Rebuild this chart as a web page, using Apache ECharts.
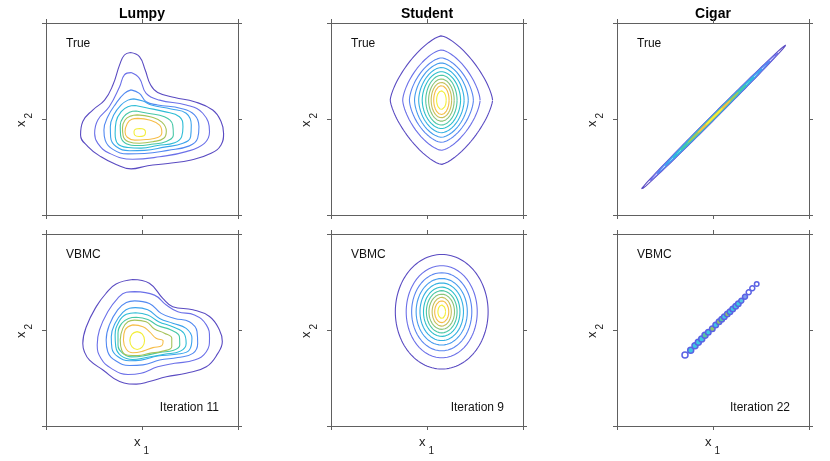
<!DOCTYPE html>
<html><head><meta charset="utf-8">
<script src="https://cdn.jsdelivr.net/npm/echarts@6/dist/echarts.min.js"></script>
<style>html,body{margin:0;padding:0;background:#fff}#c{width:830px;height:461px}</style>
</head><body><div id="c"></div><script>
// ---------- labels ----------
const panelTitles = ['Lumpy', 'Student', 'Cigar'];
const rowLabels = ['True', 'VBMC'];
const iterationLabels = ['Iteration 11', 'Iteration 9', 'Iteration 22'];
const axisMin = -3, axisMax = 3, axisInterval = 3;

// ---------- contour colours (outer -> inner) ----------
const colors9 = ['#5a4bc2', '#6b70e8', '#5289f1', '#3ca4ec', '#2dbcd6', '#46c7a6', '#a6c35a', '#f6bd48', '#f3ee3a'];
const colors11 = ['#5a4bc2', '#6b70e8', '#5a86f0', '#459cee', '#35b1e2', '#2dbfcc', '#4ec8a5', '#8bc47a', '#c7c05a', '#f6bd48', '#f3ee3a'];

// ---------- Lumpy, true density: contour outlines (x1, x2) ----------
const lumpyTrue = [
  [[-0.36,2.08],[-0.08,1.95],[0.10,1.53],[0.27,1.06],[0.49,0.83],[1.02,0.67],[1.64,0.54],[2.21,0.28],[2.47,-0.08],[2.55,-0.45],[2.47,-0.81],[2.16,-1.07],[1.54,-1.28],[0.81,-1.39],[0.18,-1.46],[-0.34,-1.56],[-0.81,-1.42],[-1.28,-1.18],[-1.69,-0.86],[-1.92,-0.50],[-1.85,-0.08],[-1.54,0.28],[-1.17,0.59],[-0.91,1.06],[-0.70,1.69],[-0.55,2.00]],
  [[-0.34,1.45],[-0.08,1.27],[0.13,0.80],[0.55,0.59],[1.38,0.44],[1.90,0.18],[2.11,-0.40],[1.95,-0.76],[1.38,-1.02],[0.55,-1.18],[-0.29,-1.26],[-1.02,-1.07],[-1.38,-0.76],[-1.48,-0.45],[-1.38,-0.03],[-1.02,0.39],[-0.70,1.01],[-0.55,1.38]],
  [[-0.34,0.91],[-0.08,0.80],[0.13,0.54],[0.49,0.44],[1.22,0.33],[1.64,0.13],[1.78,-0.24],[1.74,-0.60],[1.48,-0.84],[0.81,-0.98],[0.08,-1.08],[-0.44,-1.09],[-0.91,-0.95],[-1.15,-0.66],[-1.19,-0.34],[-1.07,0.07],[-0.81,0.49],[-0.55,0.80]],
  [[-0.26,0.63],[0.03,0.56],[0.29,0.44],[0.91,0.31],[1.38,0.18],[1.54,-0.19],[1.52,-0.55],[1.28,-0.76],[0.70,-0.88],[0.08,-0.98],[-0.39,-0.99],[-0.81,-0.86],[-0.98,-0.57],[-0.99,-0.24],[-0.88,0.13],[-0.65,0.44],[-0.44,0.59]],
  [[-0.21,0.42],[0.13,0.35],[0.70,0.23],[1.17,0.07],[1.28,-0.24],[1.24,-0.55],[1.02,-0.74],[0.49,-0.83],[-0.03,-0.91],[-0.44,-0.89],[-0.76,-0.77],[-0.84,-0.45],[-0.81,-0.08],[-0.65,0.23],[-0.44,0.38]],
  [[-0.18,0.25],[0.18,0.18],[0.70,0.07],[0.96,-0.19],[0.98,-0.50],[0.76,-0.70],[0.29,-0.79],[-0.13,-0.83],[-0.49,-0.77],[-0.67,-0.50],[-0.68,-0.19],[-0.57,0.07],[-0.39,0.21]],
  [[-0.15,0.13],[0.29,0.06],[0.62,-0.10],[0.76,-0.38],[0.68,-0.60],[0.34,-0.71],[-0.08,-0.76],[-0.42,-0.71],[-0.59,-0.52],[-0.61,-0.27],[-0.53,-0.03],[-0.36,0.09]],
  [[-0.13,0.02],[0.23,-0.03],[0.55,-0.19],[0.62,-0.42],[0.49,-0.58],[0.13,-0.64],[-0.23,-0.66],[-0.46,-0.57],[-0.53,-0.40],[-0.46,-0.14],[-0.32,-0.01]],
  [[-0.07,-0.295],[0.07,-0.33],[0.11,-0.42],[0.06,-0.52],[-0.09,-0.545],[-0.23,-0.50],[-0.25,-0.40],[-0.19,-0.31]]
];

// ---------- Lumpy, VBMC approximation ----------
const lumpyVbmc = [
  [[-0.29,1.58],[0.23,1.46],[0.65,0.99],[0.96,0.73],[1.59,0.63],[2.11,0.42],[2.42,0.00],[2.51,-0.36],[2.37,-0.73],[2.01,-1.15],[1.38,-1.35],[0.76,-1.46],[0.23,-1.61],[-0.18,-1.69],[-0.70,-1.61],[-1.22,-1.25],[-1.64,-0.94],[-1.80,-0.68],[-1.85,-0.42],[-1.74,0.10],[-1.43,0.73],[-1.12,1.15],[-0.81,1.44]],
  [[-0.23,1.20],[0.39,1.09],[0.76,0.78],[1.12,0.57],[1.64,0.47],[2.01,0.16],[2.11,-0.26],[2.01,-0.68],[1.64,-0.94],[1.02,-1.04],[0.49,-1.15],[-0.03,-1.35],[-0.44,-1.39],[-0.96,-1.20],[-1.28,-0.89],[-1.40,-0.47],[-1.33,0.00],[-1.07,0.57],[-0.76,0.99],[-0.49,1.18]],
  [[-0.23,0.91],[0.23,0.83],[0.60,0.52],[1.02,0.36],[1.48,0.26],[1.72,-0.05],[1.74,-0.42],[1.59,-0.73],[1.12,-0.86],[0.55,-0.94],[0.03,-1.09],[-0.39,-1.11],[-0.81,-0.97],[-1.07,-0.68],[-1.12,-0.31],[-1.02,0.16],[-0.76,0.63],[-0.49,0.86]],
  [[-0.21,0.70],[0.18,0.63],[0.55,0.36],[0.96,0.21],[1.38,0.05],[1.56,-0.26],[1.48,-0.625],[1.07,-0.76],[0.49,-0.81],[-0.03,-0.94],[-0.39,-0.96],[-0.76,-0.83],[-0.94,-0.57],[-0.96,-0.21],[-0.84,0.21],[-0.60,0.55],[-0.39,0.68]],
  [[-0.20,0.54],[0.18,0.47],[0.52,0.26],[0.96,0.10],[1.31,-0.10],[1.38,-0.42],[1.20,-0.66],[0.70,-0.76],[0.13,-0.86],[-0.29,-0.92],[-0.65,-0.81],[-0.82,-0.52],[-0.84,-0.16],[-0.72,0.26],[-0.49,0.49]],
  [[-0.18,0.40],[0.18,0.33],[0.49,0.14],[0.91,0.00],[1.17,-0.21],[1.18,-0.47],[0.99,-0.635],[0.55,-0.70],[0.03,-0.81],[-0.32,-0.84],[-0.60,-0.73],[-0.75,-0.47],[-0.75,-0.10],[-0.63,0.21],[-0.42,0.36]],
  [[-0.23,0.31],[0.13,0.26],[0.39,0.03],[0.70,-0.10],[0.93,-0.26],[0.93,-0.52],[0.65,-0.66],[0.23,-0.73],[-0.13,-0.80],[-0.44,-0.79],[-0.63,-0.64],[-0.68,-0.31],[-0.60,0.05],[-0.44,0.26]],
  [[-0.29,0.16],[0.03,0.10],[0.23,-0.05],[0.44,-0.26],[0.66,-0.34],[0.62,-0.49],[0.34,-0.55],[0.03,-0.66],[-0.29,-0.71],[-0.49,-0.60],[-0.58,-0.31],[-0.53,0.00]],
  [[-0.15,-0.05],[0.01,-0.13],[0.08,-0.33],[0.01,-0.53],[-0.15,-0.61],[-0.31,-0.53],[-0.38,-0.33],[-0.31,-0.13]]
];

// ---------- Student, true density: rounded-diamond contours ----------
const studentTrueCenter = [0.45, 0.59];
const studentTrueRx = [1.60, 1.21, 1.00, 0.84, 0.71, 0.60, 0.49, 0.40, 0.32, 0.24, 0.15];
const studentTrueRy = [2.01, 1.57, 1.32, 1.16, 1.02, 0.89, 0.78, 0.66, 0.55, 0.45, 0.29];
const studentTrueShape = [1.40, 1.50, 1.60, 1.70, 1.78, 1.85, 1.90, 1.95, 2.0, 2.0, 2.0];

// ---------- Student, VBMC: elliptical contours ----------
const studentVbmcCenter = [0.46, 0.57];
const studentVbmcRx = [1.45, 1.11, 0.94, 0.80, 0.68, 0.57, 0.48, 0.40, 0.30, 0.22, 0.12];
const studentVbmcRy = [1.79, 1.44, 1.22, 1.04, 0.90, 0.77, 0.66, 0.55, 0.45, 0.34, 0.21];

// ---------- Cigar, true density: thin tilted ellipses ----------
const cigarTrueCenter = [0.01, 0.05];
const cigarTrueAngle = 45;
const cigarTrueHalfLength = [3.2, 2.85, 2.5, 2.15, 1.8, 1.45, 1.1, 0.75, 0.4];
const cigarTrueHalfWidth = [0.070, 0.062, 0.055, 0.047, 0.040, 0.032, 0.024, 0.017, 0.009];

// ---------- Cigar, VBMC: mixture components ----------
const cigarVbmcX = [-0.875,-0.697,-0.563,-0.459,-0.353,-0.250,-0.147,-0.022,0.084,0.188,0.272,0.353,0.447,0.531,0.616,0.709,0.791,0.884,1.000,1.116,1.228,1.366];
const cigarVbmcY = [-0.781,-0.634,-0.491,-0.384,-0.281,-0.166,-0.072,0.041,0.156,0.259,0.334,0.416,0.500,0.572,0.656,0.741,0.822,0.916,1.041,1.178,1.303,1.438];
const cigarVbmcSize = [6,6,6,6,6,6,5.5,5.5,5.5,5.5,5.5,5.5,5.5,5.5,5.5,5.5,5.5,5,5,5,5,4.5];
const cigarVbmcCore = ['#ffffff','#3fc7e0','#3fc7e0','#3fc7e0','#3fc7e0','#55c8a0','#3fc7e0','#8fc66a','#3fc7e0','#8fc66a','#55c8a0','#3fc7e0','#8fc66a','#3fc7e0','#3fc7e0','#3fc7e0','#3fc7e0','#55c8e0','#7fa0f0','#ffffff','#ffffff','#ffffff'];

// ---------- layout ----------
const gridLeft = [46, 331, 617];
const gridTop = [23, 234];
const gridSize = 192;

const grids = [], xAxes = [], yAxes = [], series = [], graphics = [];
const axisColor = '#606060';
function axisCommon(gi, pos) {
  return {
    type: 'value', gridIndex: gi, position: pos, min: axisMin, max: axisMax, interval: axisInterval,
    axisLine: { show: true, onZero: false, lineStyle: { color: axisColor, width: 1 } },
    axisTick: { show: true, inside: false, length: 4, lineStyle: { color: axisColor } },
    axisLabel: { show: false }, splitLine: { show: false }
  };
}
for (let r = 0; r < 2; r++) for (let c = 0; c < 3; c++) {
  const gi = r * 3 + c;
  grids.push({ left: gridLeft[c], top: gridTop[r], width: gridSize, height: gridSize });
  xAxes.push(axisCommon(gi, 'bottom'));
  xAxes.push(axisCommon(gi, 'top'));
  yAxes.push(axisCommon(gi, 'left'));
  yAxes.push(axisCommon(gi, 'right'));
}
function addLine(gi, pts, color, smooth) {
  series.push({
    type: 'line', xAxisIndex: gi * 2, yAxisIndex: gi * 2, data: pts, showSymbol: false,
    smooth: smooth, silent: true, clip: true,
    lineStyle: { color: color, width: 1.1 }
  });
}
function superellipse(cx, cy, rx, ry, p, n) {
  const out = [];
  for (let i = 0; i <= n; i++) {
    const t = i / n * 2 * Math.PI, ct = Math.cos(t), st = Math.sin(t);
    out.push([cx + rx * Math.sign(ct) * Math.pow(Math.abs(ct), 2 / p),
              cy + ry * Math.sign(st) * Math.pow(Math.abs(st), 2 / p)]);
  }
  return out;
}
function tiltedEllipse(cx, cy, a, b, deg, n) {
  const out = [], th = deg * Math.PI / 180;
  for (let i = 0; i <= n; i++) {
    const t = i / n * 2 * Math.PI, u = a * Math.cos(t), v = b * Math.sin(t);
    out.push([cx + u * Math.cos(th) - v * Math.sin(th), cy + u * Math.sin(th) + v * Math.cos(th)]);
  }
  return out;
}
// Lumpy
lumpyTrue.forEach((pts, i) => addLine(0, pts.concat([pts[0]]), colors9[i], 0.45));
lumpyVbmc.forEach((pts, i) => addLine(3, pts.concat([pts[0]]), colors9[i], 0.45));
// Student
studentTrueRx.forEach((rx, i) => addLine(1, superellipse(studentTrueCenter[0], studentTrueCenter[1], rx, studentTrueRy[i], studentTrueShape[i], 160), colors11[i], false));
studentVbmcRx.forEach((rx, i) => addLine(4, superellipse(studentVbmcCenter[0], studentVbmcCenter[1], rx, studentVbmcRy[i], 2, 120), colors11[i], false));
// Cigar
cigarTrueHalfLength.forEach((a, i) => addLine(2, tiltedEllipse(cigarTrueCenter[0], cigarTrueCenter[1], a, cigarTrueHalfWidth[i], cigarTrueAngle, 200), colors9[i], false));
series.push({
  type: 'scatter', xAxisIndex: 10, yAxisIndex: 10, silent: true,
  data: cigarVbmcX.map((x, i) => ({ value: [x, cigarVbmcY[i]], symbolSize: cigarVbmcSize[i], itemStyle: { color: cigarVbmcCore[i] } })),
  symbol: 'circle', itemStyle: { borderColor: '#5a62e4', borderWidth: 1.5, opacity: 1 }
});

// ---------- text ----------
const font = 'Liberation Sans, Arial, Helvetica, sans-serif';
for (let c = 0; c < 3; c++) {
  const cx = gridLeft[c] + gridSize / 2;
  graphics.push({ type: 'text', x: cx, y: 21, style: { text: panelTitles[c], font: 'bold 14px ' + font, fill: '#000', textAlign: 'center', textVerticalAlign: 'bottom' } });
  graphics.push({ type: 'text', x: gridLeft[c] + 20, y: 49.5, style: { text: rowLabels[0], font: '12px ' + font, fill: '#111', textAlign: 'left', textVerticalAlign: 'bottom' } });
  graphics.push({ type: 'text', x: gridLeft[c] + 20, y: 260.5, style: { text: rowLabels[1], font: '12px ' + font, fill: '#111', textAlign: 'left', textVerticalAlign: 'bottom' } });
  graphics.push({ type: 'text', x: gridLeft[c] + 173, y: 413.5, style: { text: iterationLabels[c], font: '12px ' + font, fill: '#111', textAlign: 'right', textVerticalAlign: 'bottom' } });
  // x1 label
  graphics.push({ type: 'text', x: cx - 8, y: 449, style: { text: 'x', font: '13px ' + font, fill: '#222', textAlign: 'left', textVerticalAlign: 'bottom' } });
  graphics.push({ type: 'text', x: cx + 1.5, y: 456, style: { text: '1', font: '10px ' + font, fill: '#222', textAlign: 'left', textVerticalAlign: 'bottom' } });
  // x2 labels (rotated)
  for (let r = 0; r < 2; r++) {
    const cy = gridTop[r] + gridSize / 2;
    const lx = gridLeft[c] - 18;
    graphics.push({ type: 'group', x: lx, y: cy + 8, rotation: Math.PI / 2, children: [
      { type: 'text', x: 0, y: 0, style: { text: 'x', font: '13px ' + font, fill: '#222', textAlign: 'left', textVerticalAlign: 'bottom' } },
      { type: 'text', x: 8.5, y: 6.5, style: { text: '2', font: '10px ' + font, fill: '#222', textAlign: 'left', textVerticalAlign: 'bottom' } }
    ] });
  }
}

const chart = echarts.init(document.getElementById('c'), null, { renderer: 'canvas' });
chart.setOption({
  animation: false, backgroundColor: '#fff',
  grid: grids, xAxis: xAxes, yAxis: yAxes, series: series, graphic: graphics
});
</script></body></html>
